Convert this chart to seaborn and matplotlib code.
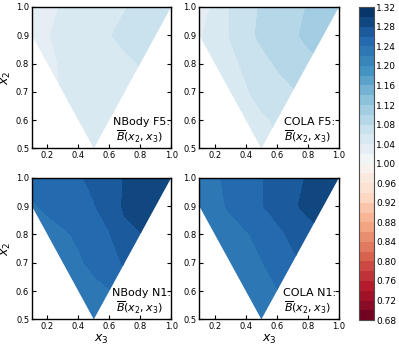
import numpy as np
import matplotlib
matplotlib.use('Agg')
import matplotlib.pyplot as plt
import seaborn as sns
from matplotlib.patches import Polygon

# grid of the bispectrum ratio, rows = x2 (0.5 -> 1.0), columns = x3 (0.1 -> 1.0)
x3 = [0.1, 0.2, 0.3, 0.4, 0.5, 0.6, 0.7, 0.8, 0.9, 1.0]
x2 = [0.5, 0.6, 0.7, 0.8, 0.9, 1.0]

nbody_f5 = [
    [1.035, 1.038, 1.041, 1.042, 1.043, 1.045, 1.047, 1.049, 1.051, 1.053],
    [1.035, 1.038, 1.041, 1.043, 1.045, 1.047, 1.050, 1.053, 1.055, 1.057],
    [1.035, 1.035, 1.041, 1.044, 1.047, 1.050, 1.053, 1.056, 1.058, 1.061],
    [1.030, 1.036, 1.042, 1.046, 1.050, 1.053, 1.056, 1.061, 1.063, 1.065],
    [1.032, 1.039, 1.044, 1.048, 1.054, 1.059, 1.065, 1.068, 1.070, 1.070],
    [1.030, 1.035, 1.042, 1.046, 1.050, 1.054, 1.059, 1.065, 1.068, 1.070],
]
cola_f5 = [
    [1.036, 1.041, 1.044, 1.049, 1.054, 1.059, 1.065, 1.071, 1.075, 1.079],
    [1.038, 1.043, 1.048, 1.052, 1.057, 1.062, 1.068, 1.074, 1.079, 1.085],
    [1.039, 1.045, 1.052, 1.058, 1.067, 1.073, 1.078, 1.084, 1.089, 1.095],
    [1.039, 1.048, 1.055, 1.064, 1.074, 1.082, 1.089, 1.095, 1.099, 1.105],
    [1.038, 1.048, 1.061, 1.074, 1.084, 1.089, 1.097, 1.104, 1.108, 1.112],
    [1.033, 1.043, 1.061, 1.072, 1.082, 1.088, 1.094, 1.101, 1.106, 1.110],
]
nbody_n1 = [
    [1.215, 1.218, 1.221, 1.225, 1.228, 1.233, 1.239, 1.246, 1.252, 1.258],
    [1.219, 1.222, 1.225, 1.228, 1.234, 1.239, 1.247, 1.254, 1.261, 1.266],
    [1.225, 1.228, 1.232, 1.237, 1.245, 1.253, 1.262, 1.270, 1.277, 1.283],
    [1.228, 1.232, 1.237, 1.243, 1.250, 1.259, 1.275, 1.279, 1.285, 1.290],
    [1.238, 1.244, 1.250, 1.254, 1.259, 1.268, 1.283, 1.288, 1.292, 1.295],
    [1.245, 1.248, 1.252, 1.258, 1.264, 1.272, 1.281, 1.287, 1.292, 1.296],
]
cola_n1 = [
    [1.210, 1.213, 1.217, 1.221, 1.226, 1.232, 1.238, 1.245, 1.252, 1.258],
    [1.214, 1.218, 1.222, 1.226, 1.232, 1.239, 1.246, 1.253, 1.261, 1.266],
    [1.218, 1.222, 1.227, 1.233, 1.239, 1.248, 1.256, 1.263, 1.270, 1.276],
    [1.222, 1.226, 1.232, 1.238, 1.246, 1.255, 1.264, 1.272, 1.278, 1.283],
    [1.228, 1.234, 1.243, 1.251, 1.259, 1.267, 1.277, 1.285, 1.290, 1.294],
    [1.232, 1.237, 1.245, 1.252, 1.259, 1.266, 1.273, 1.282, 1.288, 1.292],
]

panels = [('NBody F5:', nbody_f5), ('COLA F5:', cola_f5),
          ('NBody N1:', nbody_n1), ('COLA N1:', cola_n1)]

sns.set_style('ticks', {'axes.edgecolor': 'black', 'xtick.color': 'black',
                        'ytick.color': 'black', 'text.color': 'black',
                        'axes.labelcolor': 'black'})
plt.rcParams['font.family'] = ['DejaVu Sans']

cmap = sns.color_palette('RdBu', as_cmap=True)
levels = np.linspace(0.68, 1.32, 33)

fig = plt.figure(figsize=(3.99, 3.46), dpi=100)
boxes = [[0.080, 0.571, 0.349, 0.409], [0.4995, 0.571, 0.350, 0.409],
         [0.080, 0.077, 0.349, 0.409], [0.4995, 0.077, 0.350, 0.409]]

for i, (name, vals) in enumerate(panels):
    ax = fig.add_axes(boxes[i])
    cs = ax.contourf(x3, x2, np.array(vals), levels=levels, cmap=cmap,
                     vmin=0.68, vmax=1.32)
    # only the triangle x2 >= x3, x2 + x3 >= 1 is kept
    tri = Polygon([(0.1, 0.9), (0.5, 0.5), (1.0, 1.0), (0.1, 1.0)],
                  closed=True, transform=ax.transData, fc='none', ec='none')
    cs.set_clip_path(tri)
    ax.set_xlim(0.1, 1.0)
    ax.set_ylim(0.5, 1.0)
    xt = [0.2, 0.4, 0.6, 0.8, 1.0]
    yt = [0.5, 0.6, 0.7, 0.8, 0.9, 1.0]
    ax.set_xticks(xt)
    ax.set_xticklabels(['%.1f' % t for t in xt])
    ax.set_yticks(yt)
    ax.set_yticklabels(['%.1f' % t for t in yt])
    ax.tick_params(direction='in', top=True, right=True, labelsize=6,
                   length=3, width=0.8, pad=2)
    for s in ax.spines.values():
        s.set_linewidth(1.0)
    if i >= 2:
        ax.set_xlabel('$x_3$', fontsize=9, labelpad=1)
    if i % 2 == 0:
        ax.set_ylabel('$x_2$', fontsize=9, labelpad=2)
    ax.text(0.79, 0.188, name, transform=ax.transAxes, ha='center',
            va='center', fontsize=8)
    ax.text(0.775, 0.085, '$\\overline{B}(x_2, x_3)$', transform=ax.transAxes,
            ha='center', va='center', fontsize=8)

cax = fig.add_axes([0.9005, 0.075, 0.0376, 0.904])
cticks = np.arange(0.68, 1.3201, 0.04)
cb = fig.colorbar(cs, cax=cax, ticks=cticks)
cb.ax.set_yticklabels(['%.2f' % t for t in cticks])
cb.ax.tick_params(direction='in', labelsize=6.5, length=3, width=0.8, pad=1.5)
cb.outline.set_edgecolor('0.3')

fig.savefig('out.png', dpi=100)
